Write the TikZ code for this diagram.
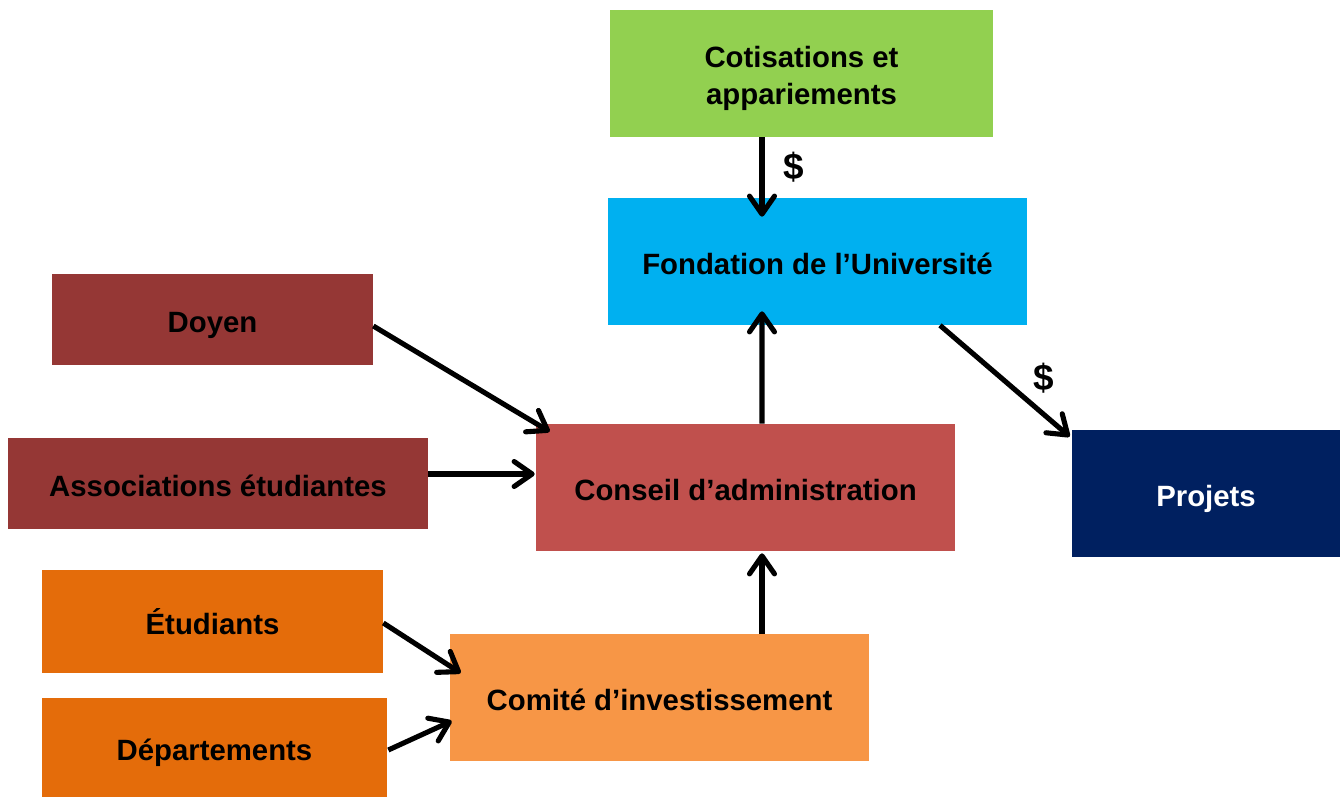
\documentclass[tikz,border=0pt]{standalone}
\usepackage{fontspec}
\setmainfont{Liberation Sans}
\usetikzlibrary{
  arrows.meta, % for Straight Barb arrow tip
  calc, % to shift the arrow ends along the boxes
}
\definecolor{cotisgreen}{HTML}{92D050}
\definecolor{fondblue}{HTML}{00B0F0}
\definecolor{darkred}{HTML}{953735}
\definecolor{conseilred}{HTML}{C0504D}
\definecolor{projnavy}{HTML}{002060}
\definecolor{darkorange}{HTML}{E46C0A}
\definecolor{lightorange}{HTML}{F79646}
\tikzset{
  box/.style={ % style for each box
    rectangle, % plain filled rectangle, no border
    inner sep=0pt, % no padding between the text and the rectangle
    align=center, % allow two lines of text
    text height=15pt, text depth=0pt, % sit the text a little low, as in the slide
    font=\bfseries\fontsize{16.7}{21}\selectfont, % bold text
  },
  conn/.style={ % style for the connections
    -{Straight Barb[length=0.36cm,width=0.5cm,line cap=round,line join=round]}, % open barbed arrow tip
    line width=2.9pt, % thick arrow lines
  },
  money/.style={ % style for the dollar labels
    inner sep=0pt,
    font=\bfseries\fontsize{21}{24}\selectfont,
  },
}

\begin{document}
\begin{tikzpicture}[x=0.02cm, y=-0.02cm]
	\useasboundingbox (0,0) rectangle (1340,798);
	
	\node (cotis) [box, fill=cotisgreen, minimum width=7.66cm, minimum height=2.54cm, text height=35pt] at (801.5,73.5) {Cotisations et\\appariements};
	
	\node (fond) [box, fill=fondblue, minimum width=8.38cm, minimum height=2.54cm] at (817.5,261.5) {Fondation de l’Université};
	
	\node (doyen) [box, fill=darkred, minimum width=6.42cm, minimum height=1.82cm] at (212.5,319.5) {Doyen};
	
	\node (assoc) [box, fill=darkred, minimum width=8.4cm, minimum height=1.82cm] at (218,483.5) {Associations étudiantes};
	
	\node (conseil) [box, fill=conseilred, minimum width=8.38cm, minimum height=2.54cm] at (745.5,487.5) {Conseil d’administration};
	
	\node (projets) [box, fill=projnavy, text=white, minimum width=5.36cm, minimum height=2.54cm] at (1206,493.5) {Projets};
	
	\node (etud) [box, fill=darkorange, minimum width=6.82cm, minimum height=2.06cm] at (212.5,621.5) {Étudiants};
	
	\node (depart) [box, fill=darkorange, minimum width=6.9cm, minimum height=1.98cm] at (214.5,747.5) {Départements};
	
	\node (comite) [box, fill=lightorange, minimum width=8.38cm, minimum height=2.54cm] at (659.5,697.5) {Comité d’investissement};
	
	\draw[conn] ($(cotis.south)+(-39.5,0)$) -- node[money, pos=0.375, xshift=0.64cm] {\$} ($(fond.north)+(-55.5,19)$);
	\draw[conn] ($(conseil.north)+(16.5,0)$) -- ($(fond.south)+(-55.5,-14)$);
	\draw[conn] ($(fond.south)+(122.5,0)$) -- node[money, pos=0.5, xshift=0.78cm, yshift=0.06cm] {\$} ($(projets.north west)+(-2,7)$);
	\draw[conn] ($(doyen.east)+(0,6.5)$) -- ($(conseil.north west)+(14,8)$);
	\draw[conn] ($(assoc.east)+(0,-9.5)$) -- ($(conseil.west)+(-1,-13.5)$);
	\draw[conn] ($(comite.north)+(102.5,0)$) -- ($(conseil.south)+(16.5,2)$);
	\draw[conn] ($(etud.east)+(0,1.5)$) -- ($(comite.west)+(11,-24.5)$);
	\draw[conn] ($(depart.east)+(1,2.5)$) -- ($(comite.west)+(2,23.5)$);
\end{tikzpicture}
\end{document}
